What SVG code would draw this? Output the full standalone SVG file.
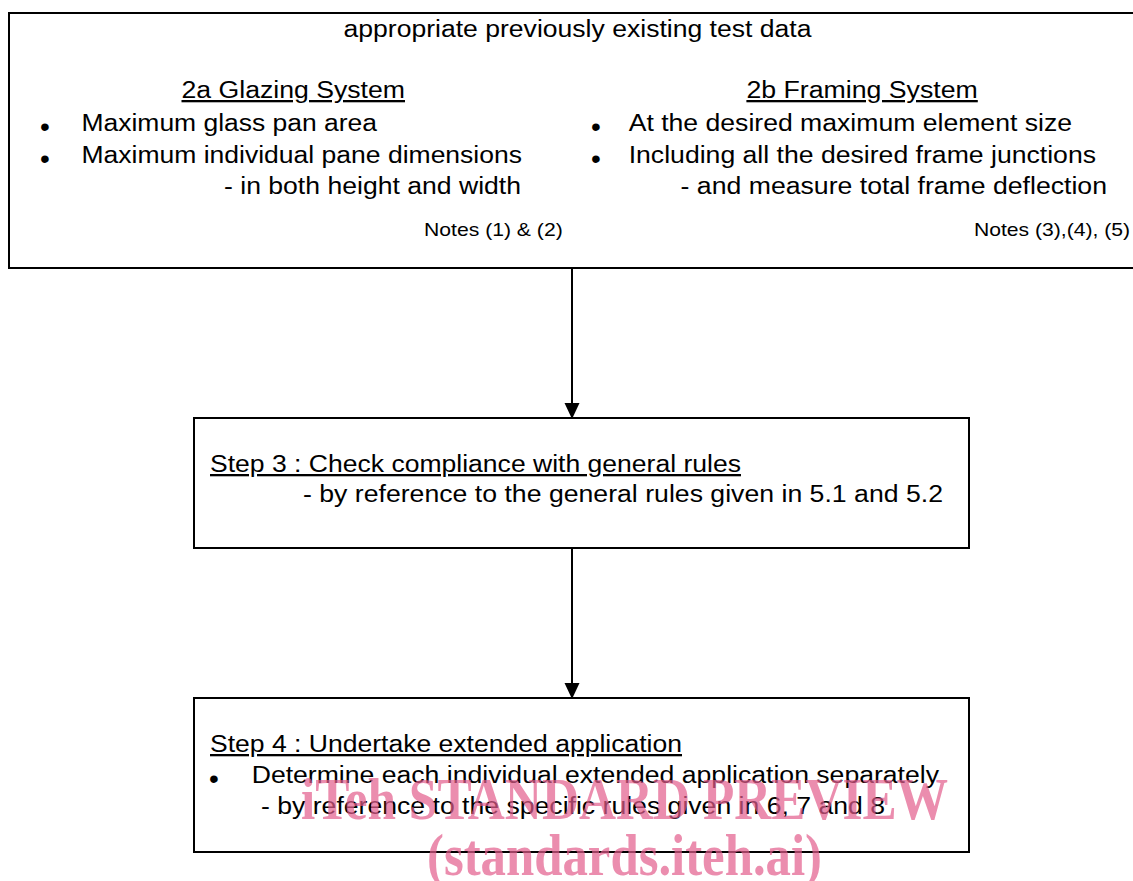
<svg xmlns="http://www.w3.org/2000/svg" width="1133" height="881" viewBox="0 0 1133 881">
<defs>
<style>
.box{fill:#fff;stroke:#000;stroke-width:2}
.t{font-family:"Liberation Sans",Arial,sans-serif;font-size:23px;fill:#000}
.n{font-family:"Liberation Sans",Arial,sans-serif;font-size:19px;fill:#000}
.b{font-family:"Liberation Sans",Arial,sans-serif;font-size:28px;fill:#000;text-anchor:middle}
.u{text-decoration:underline}
.wm{font-family:"Liberation Serif","Times New Roman",serif;font-weight:bold;font-size:51px;fill:#e35d8c;fill-opacity:0.7}
.edge{stroke:#000;stroke-width:2;fill:none}
</style>
<marker id="ah" markerWidth="16" markerHeight="16" refX="16" refY="7.5" orient="auto" markerUnits="userSpaceOnUse">
<path d="M0,0 L16,7.5 L0,15 Z" fill="#000"/>
</marker>
</defs>
<rect width="1133" height="881" fill="#fff"/>
<g id="node-step2">
<path class="box" d="M1140,13 H9 V268 H1140"/>
<text class="t" x="343.5" y="37" textLength="468" lengthAdjust="spacingAndGlyphs">appropriate previously existing test data</text>
<text class="t u" x="181.5" y="98" textLength="223.5" lengthAdjust="spacingAndGlyphs">2a Glazing System</text>
<text class="b" x="45" y="136">•</text>
<text class="t" x="81.5" y="131" textLength="295.5" lengthAdjust="spacingAndGlyphs">Maximum glass pan area</text>
<text class="b" x="45" y="168">•</text>
<text class="t" x="81.5" y="163" textLength="440.5" lengthAdjust="spacingAndGlyphs">Maximum individual pane dimensions</text>
<text class="t" x="224" y="194" textLength="297" lengthAdjust="spacingAndGlyphs">- in both height and width</text>
<text class="n" x="424" y="236" textLength="138.7" lengthAdjust="spacingAndGlyphs">Notes (1) &amp; (2)</text>
<text class="t u" x="746.4" y="98" textLength="231.4" lengthAdjust="spacingAndGlyphs">2b Framing System</text>
<text class="b" x="596" y="136">•</text>
<text class="t" x="628.7" y="131" textLength="443.3" lengthAdjust="spacingAndGlyphs">At the desired maximum element size</text>
<text class="b" x="596" y="168">•</text>
<text class="t" x="628.7" y="163" textLength="467.3" lengthAdjust="spacingAndGlyphs">Including all the desired frame junctions</text>
<text class="t" x="680.6" y="194" textLength="426.4" lengthAdjust="spacingAndGlyphs">- and measure total frame deflection</text>
<text class="n" x="974" y="236" textLength="156" lengthAdjust="spacingAndGlyphs">Notes (3),(4), (5)</text>
</g>
<g id="node-step3">
<rect class="box" x="194" y="418" width="775" height="130"/>
<text class="t u" x="210" y="472" textLength="531" lengthAdjust="spacingAndGlyphs">Step 3 : Check compliance with general rules</text>
<text class="t" x="303" y="502" textLength="640" lengthAdjust="spacingAndGlyphs">- by reference to the general rules given in 5.1 and 5.2</text>
</g>
<g id="node-step4">
<rect class="box" x="194" y="698" width="775" height="154"/>
<text class="t u" x="210" y="752" textLength="472" lengthAdjust="spacingAndGlyphs">Step 4 : Undertake extended application</text>
<text class="b" x="214" y="788">•</text>
<text class="t" x="251.7" y="783" textLength="687.3" lengthAdjust="spacingAndGlyphs">Determine each individual extended application separately</text>
<text class="t" x="261" y="814" textLength="624" lengthAdjust="spacingAndGlyphs">- by reference to the specific rules given in 6, 7 and 8</text>
</g>
<g id="connectors">
<line class="edge" x1="572" y1="268" x2="572" y2="419" marker-end="url(#ah)"/>
<line class="edge" x1="572" y1="548" x2="572" y2="699" marker-end="url(#ah)"/>
</g>
<g id="watermark">
<text class="wm" transform="translate(301,819) scale(1,1.15)" textLength="647" lengthAdjust="spacingAndGlyphs">iTeh STANDARD PREVIEW</text>
<text class="wm" transform="translate(427,875) scale(1,1.15)" textLength="395" lengthAdjust="spacingAndGlyphs">(standards.iteh.ai)</text>
</g>
</svg>
